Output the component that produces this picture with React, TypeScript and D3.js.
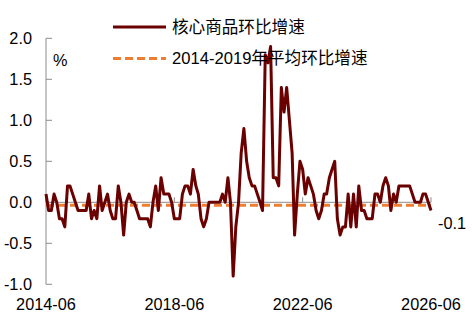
import React from "react";
import * as d3 from "d3";

const startMonth = "2014-06";
const coreGoodsMoM: number[] = [
  0.1, -0.1, -0.1, 0.1, 0.0, -0.2, -0.2, -0.3, 0.2, 0.2,
  0.1, 0.0, -0.1, -0.1, -0.1, -0.1, 0.1, -0.2, -0.1, -0.2,
  0.2, -0.1, 0.0, 0.1, -0.1, -0.2, -0.2, 0.2, 0.0, -0.4,
  0.0, 0.1, 0.0, 0.0, -0.1, -0.2, -0.2, -0.2, -0.2, -0.3,
  0.0, 0.2, -0.1, 0.3, 0.1, 0.1, 0.1, 0.0, -0.2, -0.2,
  -0.2, 0.1, 0.2, 0.2, 0.1, 0.4, 0.2, 0.1, -0.2, -0.3,
  -0.2, 0.0, 0.0, 0.0, 0.0, 0.0, 0.1, 0.0, 0.3, 0.0,
  -0.9, -0.3, 0.0, 0.6, 0.9, 0.5, 0.3, 0.2, 0.2, 0.1,
  0.0, -0.1, 1.8, 1.7, 1.9, 0.3, 0.3, 0.2, 1.4, 1.1,
  1.4, 1.0, 0.6, -0.4, 0.1, 0.5, 0.4, 0.1, 0.3, 0.2,
  0.1, -0.1, -0.2, -0.1, 0.1, 0.1, 0.3, 0.4, 0.5, -0.2,
  -0.4, -0.3, -0.3, 0.1, -0.3, 0.1, -0.3, 0.2, -0.1, -0.1,
  -0.2, -0.2, -0.2, 0.1, 0.1, 0.0, 0.2, 0.3, 0.2, -0.1,
  0.1, 0.0, 0.2, 0.2, 0.2, 0.2, 0.2, 0.1, 0.0, 0.0,
  0.0, 0.1, 0.1, 0.0, -0.1,
];
const avg2014to2019 = -0.035;
const yTicks = [2.0, 1.5, 1.0, 0.5, 0.0, -0.5, -1.0];
const xTickLabels = ["2014-06", "2018-06", "2022-06", "2026-06"];
const seriesNames = ["核心商品环比增速", "2014-2019年平均环比增速"];
const unitLabel = "%";

const parseMonth = d3.utcParse("%Y-%m");
const fmtMonth = d3.utcFormat("%Y-%m");

export default function App() {
  const W = 472, H = 317;
  const start = parseMonth(startMonth)!;
  const dates = coreGoodsMoM.map((_, i) => d3.utcMonth.offset(start, i));
  const x = d3
    .scaleUtc()
    .domain([parseMonth(xTickLabels[0])!, parseMonth(xTickLabels[xTickLabels.length - 1])!])
    .range([46, 431]);
  const y = d3.scaleLinear().domain([-1, 2]).range([284.3, 38.3]);

  const line = d3
    .line<number>()
    .x((_, i) => x(dates[i]))
    .y((d) => y(d));

  const axisColor = "#8c8c8c";
  const red = "#6a0000";
  const orange = "#ed7d31";
  const font = "'Liberation Sans', Arial, 'Noto Sans CJK SC', sans-serif";
  const last = coreGoodsMoM[coreGoodsMoM.length - 1];
  const lastDate = dates[dates.length - 1];
  const x0 = x.range()[0];
  const x1 = x.range()[1];

  return (
    <svg
      width={W}
      height={H}
      style={{ position: "absolute", left: 0, top: 0, background: "#fff" }}
      fontFamily={font}
    >
      {/* y axis */}
      <line x1={x0} x2={x0} y1={y(2)} y2={y(-1)} stroke={axisColor} strokeWidth={1} />
      {yTicks.map((t) => (
        <g key={t}>
          <line x1={x0} x2={x0 + 6} y1={y(t)} y2={y(t)} stroke={axisColor} strokeWidth={1} />
          <text
            x={32}
            y={y(t)}
            textAnchor="end"
            dominantBaseline="central"
            fontSize={16.3}
            fill="#000"
          >
            {t.toFixed(1)}
          </text>
        </g>
      ))}
      {/* x axis at zero */}
      <line x1={x0} x2={x1} y1={y(0)} y2={y(0)} stroke={axisColor} strokeWidth={1} />
      {xTickLabels.map((l) => {
        const px = x(parseMonth(l)!);
        return (
          <g key={l}>
            <line x1={px} x2={px} y1={y(0)} y2={y(0) - 5} stroke={axisColor} strokeWidth={1} />
            <text x={px} y={310} textAnchor="middle" fontSize={16.3} fill="#000">
              {fmtMonth(parseMonth(l)!)}
            </text>
          </g>
        );
      })}
      <text x={53} y={60} dominantBaseline="central" fontSize={16.3} fill="#000">
        {unitLabel}
      </text>
      {/* average dashed line */}
      <line
        x1={x0}
        x2={x1}
        y1={y(avg2014to2019)}
        y2={y(avg2014to2019)}
        stroke={orange}
        strokeWidth={3}
        strokeDasharray="8,4"
      />
      {/* main series */}
      <path
        d={line(coreGoodsMoM) ?? ""}
        fill="none"
        stroke={red}
        strokeWidth={3}
        strokeLinejoin="round"
      />
      <text
        x={x(lastDate) + 7}
        y={y(last) + 12}
        dominantBaseline="central"
        fontSize={16.3}
        fill="#000"
      >
        {last.toFixed(1)}
      </text>
      {/* legend */}
      <line x1={113} x2={166} y1={27} y2={27} stroke={red} strokeWidth={3} />
      <text x={172} y={27} dominantBaseline="central" fontSize={16.6} fill="#000">
        {seriesNames[0]}
      </text>
      <line
        x1={113}
        x2={166}
        y1={58.5}
        y2={58.5}
        stroke={orange}
        strokeWidth={3}
        strokeDasharray="8,4"
      />
      <text x={172} y={58.5} dominantBaseline="central" fontSize={16.6} fill="#000">
        {seriesNames[1]}
      </text>
    </svg>
  );
}
